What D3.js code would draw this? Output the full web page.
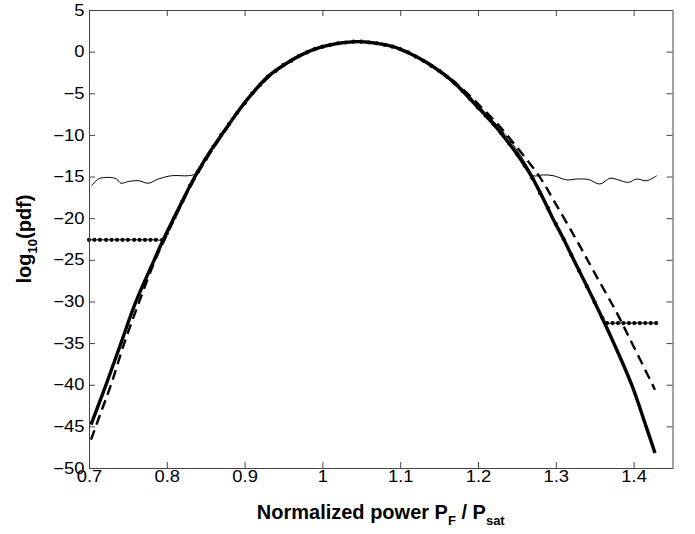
<!DOCTYPE html>
<html lang="en">
  <head>
    <meta charset="utf-8">
    <title>log10(pdf) vs normalized power</title>
    <script src="https://cdn.jsdelivr.net/npm/d3@7"></script>
    <style>
      body { margin: 0; background: #fff; }
      text { font-family: "Liberation Sans", Arial, Helvetica, sans-serif; }
    </style>
  </head>
  <body>
    <script>
      var w = 695;
      var h = 534;
      var margin = { top: 10, right: 22.5, bottom: 66, left: 89 };

      // tick labels
      var xTicks = [0.7, 0.8, 0.9, 1.0, 1.1, 1.2, 1.3, 1.4];
      var yTicks = [5, 0, -5, -10, -15, -20, -25, -30, -35, -40, -45, -50];

      // thick solid curve
      var solidX = [0.7026, 0.7219, 0.7411, 0.7604, 0.7839, 0.7955, 0.816, 0.8362, 0.855, 0.8748,
                    0.893, 0.911, 0.93, 0.954, 0.975, 0.997, 1.02, 1.046, 1.07, 1.091,
                    1.112, 1.134, 1.15, 1.168, 1.183, 1.198, 1.213, 1.228, 1.25, 1.269,
                    1.283, 1.296, 1.31, 1.323, 1.3495, 1.3745, 1.3975, 1.416, 1.4275];
      var solidY = [-44.8, -40.0, -35.0, -30.0, -25.0, -22.6, -18.7, -15.0, -12.1, -9.4,
                    -7.0, -4.9, -3.0, -1.4, -0.3, 0.5, 1.0, 1.2, 1.0, 0.6,
                    -0.2, -1.3, -2.3, -3.6, -5.0, -6.5, -8.0, -9.6, -12.3, -15.0,
                    -17.5, -20.0, -22.5, -25.0, -30.0, -35.0, -40.0, -45.0, -48.2];

      // dashed curve
      var dashX = [0.7026, 0.715, 0.7283, 0.7454, 0.7647, 0.7852, 0.80, 0.8362, 0.875, 0.911,
                   0.954, 0.997, 1.046, 1.091, 1.134, 1.168, 1.2004, 1.228, 1.2545, 1.2797,
                   1.30, 1.3265, 1.35, 1.378, 1.40, 1.4275];
      var dashY = [-46.6, -43.4, -40.0, -35.0, -30.0, -25.0, -22.0, -15.2, -9.5, -4.9,
                   -1.4, 0.5, 1.2, 0.6, -1.3, -3.5, -6.3, -9.0, -12.0, -15.1,
                   -18.3, -22.6, -26.6, -31.3, -35.4, -40.6];

      // thin solid curve (noise floor near -15)
      var thinX = [0.7034, 0.712, 0.7248, 0.7356, 0.7411, 0.7505, 0.7634, 0.7762, 0.7891, 0.8063,
                   0.8277, 0.8362, 0.844, 0.855, 0.8748, 0.893, 0.911, 0.93, 0.954, 0.975,
                   0.997, 1.02, 1.046, 1.07, 1.091, 1.112, 1.134, 1.15, 1.168, 1.183,
                   1.198, 1.213, 1.228, 1.25, 1.266, 1.271, 1.284, 1.2968, 1.314, 1.3268,
                   1.3418, 1.3568, 1.3697, 1.3804, 1.3932, 1.404, 1.4168, 1.4297];
      var thinY = [-16.1, -15.3, -15.1, -15.3, -15.8, -15.6, -15.5, -15.8, -15.3, -14.9,
                   -14.9, -14.7, -13.9, -12.1, -9.4, -7.0, -4.9, -3.0, -1.4, -0.3,
                   0.5, 1.0, 1.2, 1.0, 0.6, -0.2, -1.2, -2.2, -3.5, -4.8,
                   -6.2, -7.7, -9.2, -11.8, -14.2, -14.9, -14.8, -14.9, -15.4, -15.3,
                   -15.35, -15.9, -15.2, -15.4, -15.7, -15.3, -15.5, -14.9];

      // dotted curve with markers (floors at -22.6 and -32.6)
      var dotX = [0.700, 0.707, 0.714, 0.722, 0.729, 0.736, 0.743, 0.750, 0.758, 0.765,
                  0.772, 0.779, 0.786, 0.794,
                  0.80, 0.81, 0.82, 0.83, 0.84, 0.85, 0.86, 0.87, 0.88, 0.89,
                  0.90, 0.91, 0.92, 0.93, 0.94, 0.95, 0.96, 0.97, 0.98, 0.99,
                  1.00, 1.01, 1.02, 1.03, 1.04, 1.05, 1.06, 1.07, 1.08, 1.09,
                  1.10, 1.11, 1.12, 1.13, 1.14, 1.15, 1.16, 1.17, 1.18, 1.19,
                  1.20, 1.21, 1.22, 1.23, 1.24, 1.25, 1.26, 1.27, 1.28, 1.29,
                  1.30, 1.31, 1.32, 1.33, 1.34, 1.35, 1.36,
                  1.366, 1.373, 1.380, 1.387, 1.394, 1.401, 1.408, 1.415, 1.422, 1.429];
      var dotY = [-22.6, -22.6, -22.6, -22.6, -22.6, -22.6, -22.6, -22.6, -22.6, -22.6,
                  -22.6, -22.6, -22.6, -22.6,
                  -21.8, -19.9, -18.0, -16.1, -14.4, -12.9, -11.4, -10.0, -8.7, -7.4,
                  -6.2, -5.0, -4.0, -3.0, -2.3, -1.6, -1.1, -0.5, -0.1, 0.3,
                  0.6, 0.8, 1.0, 1.1, 1.2, 1.2, 1.1, 1.0, 0.8, 0.6,
                  0.3, -0.1, -0.6, -1.1, -1.7, -2.3, -3.0, -3.8, -4.7, -5.7,
                  -6.7, -7.7, -8.7, -9.8, -11.0, -12.3, -13.7, -15.2, -17.0, -18.8,
                  -20.7, -22.5, -24.4, -26.3, -28.2, -30.1, -32.0,
                  -32.6, -32.6, -32.6, -32.6, -32.6, -32.6, -32.6, -32.6, -32.6, -32.6];

      var xScale = d3.scaleLinear()
                     .domain([0.7, 1.45])
                     .range([margin.left, w - margin.right]);
      var yScale = d3.scaleLinear()
                     .domain([-50, 5])
                     .range([h - margin.bottom, margin.top]);

      var svg = d3.select("body")
                  .append("svg")
                  .attr("width", w)
                  .attr("height", h);

      var zip = function (xs, ys) {
        return xs.map(function (d, i) { return [d, ys[i]]; });
      };

      var line = d3.line()
                   .x(function (d) { return xScale(d[0]); })
                   .y(function (d) { return yScale(d[1]); })
                   .curve(d3.curveCatmullRom.alpha(0.5));

      // curves
      svg.append("path")
         .datum(zip(dashX, dashY))
         .attr("d", line)
         .attr("fill", "none")
         .attr("stroke", "#000")
         .attr("stroke-width", 2.4)
         .attr("stroke-dasharray", "10,6");

      svg.append("path")
         .datum(zip(solidX, solidY))
         .attr("d", line)
         .attr("fill", "none")
         .attr("stroke", "#000")
         .attr("stroke-width", 3.4)
         .attr("stroke-linejoin", "round");

      svg.append("path")
         .datum(zip(thinX, thinY))
         .attr("d", line)
         .attr("fill", "none")
         .attr("stroke", "#000")
         .attr("stroke-width", 1);

      var dots = zip(dotX, dotY);
      svg.append("path")
         .datum(dots)
         .attr("d", line)
         .attr("fill", "none")
         .attr("stroke", "#000")
         .attr("stroke-width", 1);

      svg.selectAll("circle.dot")
         .data(dots)
         .enter()
         .append("circle")
         .attr("class", "dot")
         .attr("cx", function (d) { return xScale(d[0]); })
         .attr("cy", function (d) { return yScale(d[1]); })
         .attr("r", 2.1)
         .attr("fill", "#000");

      // axes, ticks pointing inwards on all four sides
      var fmt = function (d) { return d3.format("")(d); };
      var tickLen = 6;

      var xAxis = d3.axisBottom(xScale).tickValues(xTicks).tickFormat(fmt)
                    .tickSizeInner(-tickLen).tickSizeOuter(0).tickPadding(3);
      var xAxisTop = d3.axisTop(xScale).tickValues(xTicks).tickFormat("")
                       .tickSizeInner(-tickLen).tickSizeOuter(0);
      var yAxis = d3.axisLeft(yScale).tickValues(yTicks).tickFormat(fmt)
                    .tickSizeInner(-tickLen).tickSizeOuter(0).tickPadding(4);
      var yAxisRight = d3.axisRight(yScale).tickValues(yTicks).tickFormat("")
                         .tickSizeInner(-tickLen).tickSizeOuter(0);

      var gx = svg.append("g")
                  .attr("transform", "translate(0," + (h - margin.bottom) + ")")
                  .call(xAxis);
      svg.append("g")
         .attr("transform", "translate(0," + margin.top + ")")
         .call(xAxisTop);
      var gy = svg.append("g")
                  .attr("transform", "translate(" + margin.left + ",0)")
                  .call(yAxis);
      svg.append("g")
         .attr("transform", "translate(" + (w - margin.right) + ",0)")
         .call(yAxisRight);

      svg.selectAll(".domain, .tick line")
         .attr("stroke", "#444")
         .attr("stroke-width", 1);

      svg.selectAll(".tick text")
         .attr("fill", "#000")
         .attr("font-size", "16px");
      gx.selectAll(".tick text").attr("transform", "scale(1.15,1)");
      gy.selectAll(".tick text").attr("transform", "scale(1.15,1)");

      // axis labels
      var xl = svg.append("text")
                  .attr("x", (margin.left + w - margin.right) / 2)
                  .attr("y", 519)
                  .attr("text-anchor", "middle")
                  .attr("font-size", "20px")
                  .attr("font-weight", "bold");
      xl.append("tspan").text("Normalized power P");
      xl.append("tspan").attr("dy", 6).attr("font-size", "13px").text("F");
      xl.append("tspan").attr("dy", -6).text(" / P");
      xl.append("tspan").attr("dy", 6).attr("font-size", "13px").text("sat");

      var yl = svg.append("text")
                  .attr("transform", "translate(31," + ((margin.top + h - margin.bottom) / 2) + ") rotate(-90)")
                  .attr("text-anchor", "middle")
                  .attr("font-size", "20px")
                  .attr("font-weight", "bold");
      yl.append("tspan").text("log");
      yl.append("tspan").attr("dy", 6).attr("font-size", "13px").text("10");
      yl.append("tspan").attr("dy", -6).text("(pdf)");
    </script>
  </body>
</html>
